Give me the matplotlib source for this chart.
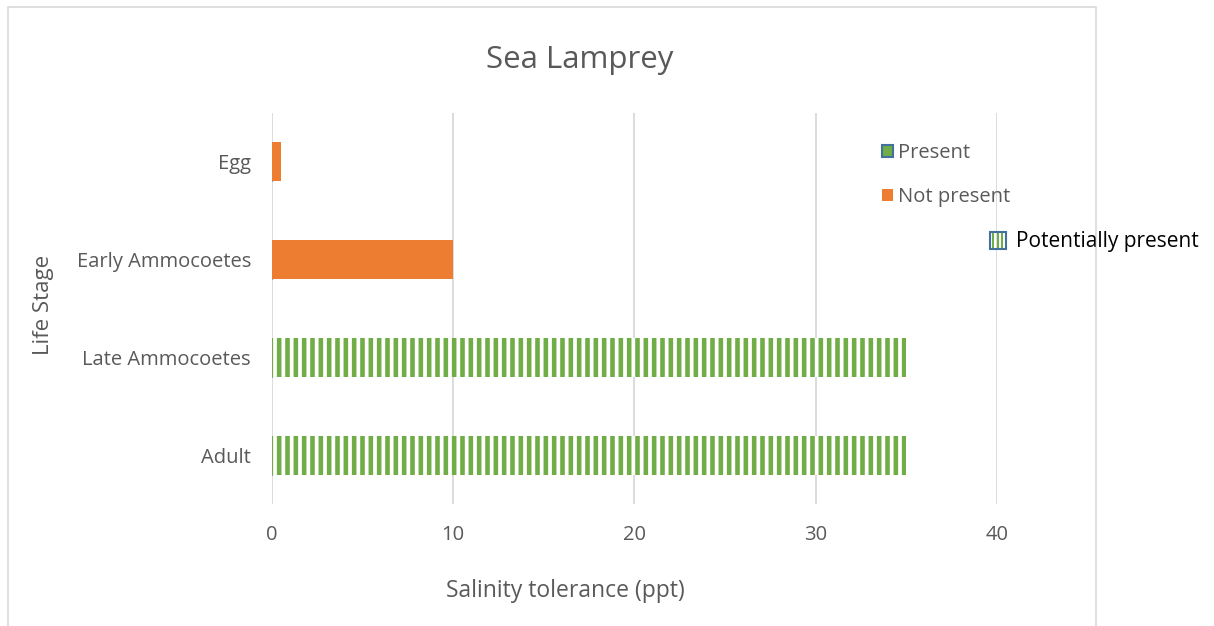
import matplotlib.pyplot as plt
from matplotlib.patches import Patch, Rectangle
from matplotlib.legend_handler import HandlerBase

plt.rcParams['font.family'] = ['Open Sans', 'DejaVu Sans']
plt.rcParams['hatch.linewidth'] = 3.3

stages = ["Adult", "Late Ammocoetes", "Early Ammocoetes", "Egg"]
present = [0, 0, 0, 0]
not_present = [0, 0, 10, 0.5]
potentially = [35, 35, 0, 0]
xticks = [0, 10, 20, 30, 40]

green = "#70AD47"
orange = "#ED7D31"
blue = "#41719C"
grey = "#595959"


class StripeHandler(HandlerBase):
    # small striped box with a blue border, like the Excel legend key
    def create_artists(self, legend, orig_handle, xdescent, ydescent,
                       width, height, fontsize, trans):
        arts = []
        n = 3
        step = width / (2 * n + 1)
        for i in range(n):
            arts.append(Rectangle((-xdescent + step * (2 * i + 1), -ydescent), step, height,
                                  facecolor=green, linewidth=0, transform=trans))
        arts.append(Rectangle((-xdescent, -ydescent), width, height, fill=False,
                              edgecolor=blue, linewidth=1.5, transform=trans))
        return arts


fig = plt.figure(figsize=(12.14, 6.26), dpi=100)
ax = fig.add_axes([0.224, 0.195, 0.597, 0.6245])

# chart border like the Excel chart area
fig.patches.append(Rectangle((8 / 1214, -0.05), 1088 / 1214, 1 - 7 / 626 + 0.05,
                             transform=fig.transFigure, fill=False,
                             edgecolor="#D9D9D9", linewidth=1.2))

y = range(len(stages))
ax.barh(y, present, height=0.4, color=green, edgecolor=blue)
ax.barh(y, not_present, height=0.4, color=orange, linewidth=0)
ax.barh(y, potentially, height=0.4, facecolor="white", edgecolor=green,
        hatch="||", linewidth=0)

ax.set_xlim(0, 40)
ax.set_ylim(-0.5, 3.5)
ax.set_xticks(xticks)
ax.set_yticks(list(y))
ax.set_yticklabels(stages)
ax.tick_params(length=0, labelsize=14.5, labelcolor=grey)
ax.tick_params(axis="y", pad=15)
ax.tick_params(axis="x", pad=15)
ax.grid(axis="x", color="#D9D9D9", linewidth=1.3)
ax.set_axisbelow(True)
for s in ax.spines.values():
    s.set_visible(False)

fig.text(580 / 1214, 1 - 60 / 626, "Sea Lamprey", ha="center", va="center",
         fontsize=22.5, color=grey)
fig.text(565 / 1214, 1 - 591 / 626, "Salinity tolerance (ppt)", ha="center",
         va="center", fontsize=16.5, color=grey)
fig.text(43 / 1214, 1 - 305 / 626, "Life Stage", ha="center", va="center",
         rotation=90, fontsize=16, color=grey)

kw = dict(frameon=False, handlelength=0.55, handleheight=0.55,
          handletextpad=0.25, borderpad=0, borderaxespad=0, fontsize=14.5)
leg1 = fig.legend([Patch(facecolor=green, edgecolor=blue, linewidth=1.5)], ["Present"],
                  loc="center left", bbox_to_anchor=(882 / 1214, 1 - 153 / 626),
                  labelcolor=grey, **kw)
leg2 = fig.legend([Patch(facecolor=orange, linewidth=0)], ["Not present"],
                  loc="center left", bbox_to_anchor=(882 / 1214, 1 - 197 / 626),
                  labelcolor=grey, **kw)
pot = Patch(facecolor="white", edgecolor=green)
kw.update(handlelength=0.75, handleheight=0.85, handletextpad=0.5, fontsize=15)
leg3 = fig.legend([pot], ["Potentially present"], handler_map={Patch: StripeHandler()},
                  loc="center left", bbox_to_anchor=(990 / 1214, 1 - 242 / 626),
                  labelcolor="black", **kw)

fig.savefig("out.png", dpi=100)
